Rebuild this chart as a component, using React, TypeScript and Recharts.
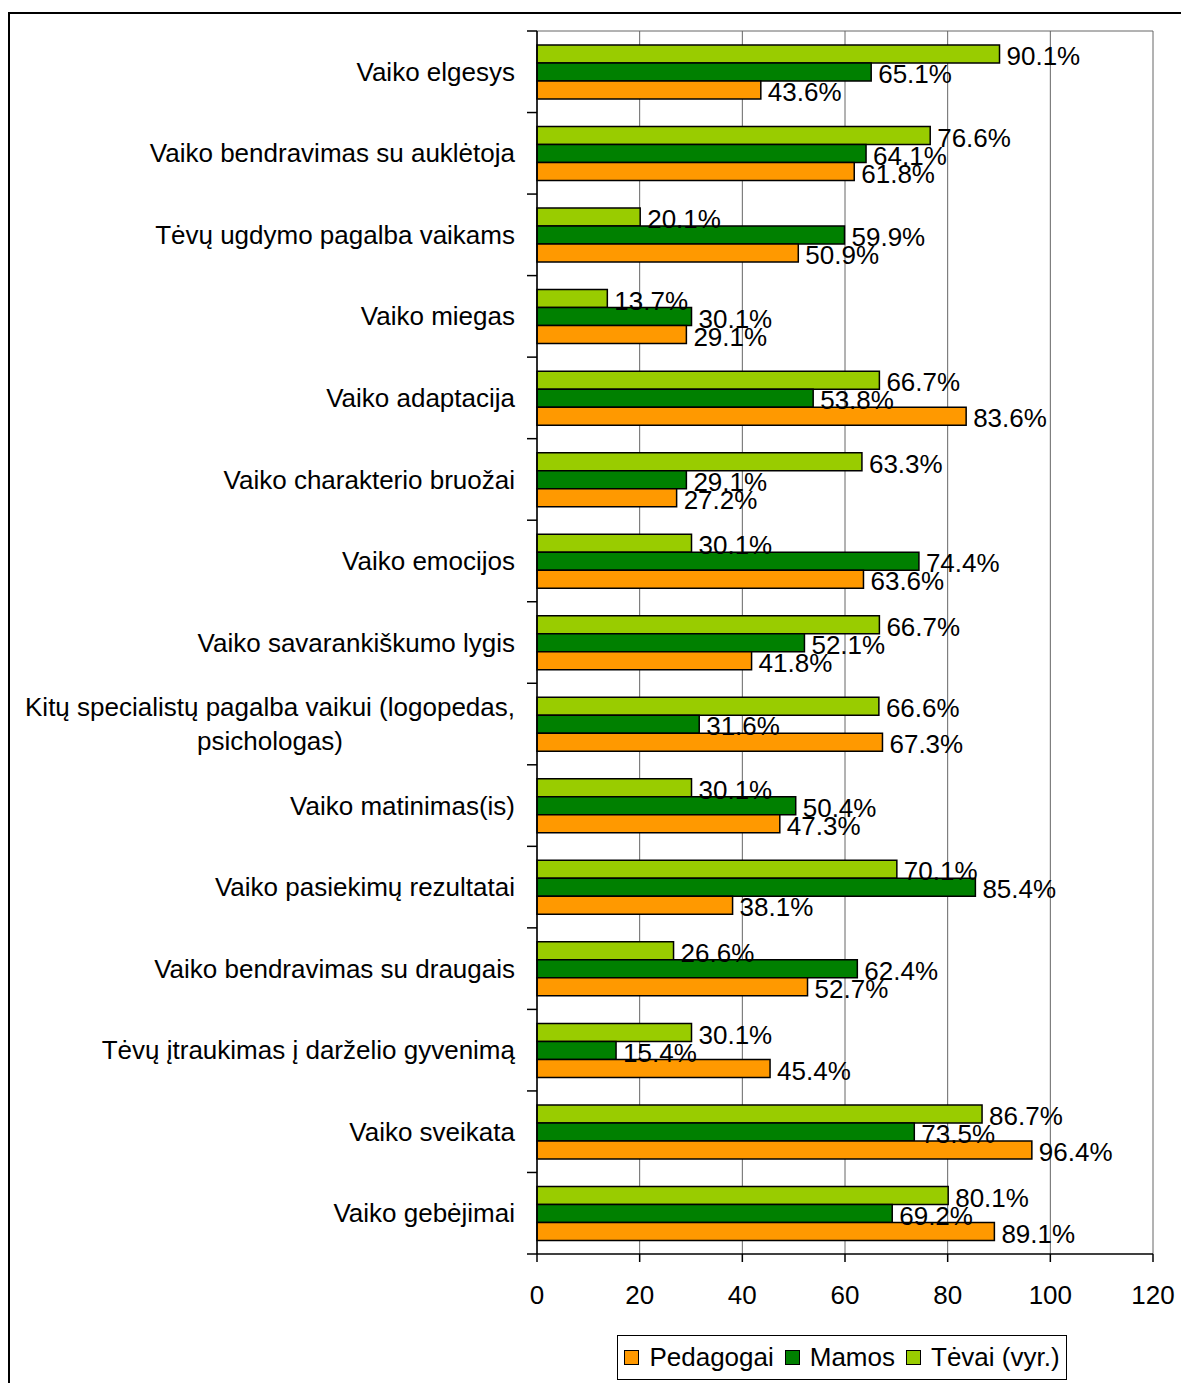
import { Bar, BarChart, CartesianGrid, LabelList, Legend, XAxis, YAxis } from "recharts";

const categories = [
  "Vaiko elgesys",
  "Vaiko bendravimas su auklėtoja",
  "Tėvų ugdymo pagalba vaikams",
  "Vaiko miegas",
  "Vaiko adaptacija",
  "Vaiko charakterio bruožai",
  "Vaiko emocijos",
  "Vaiko savarankiškumo lygis",
  "Kitų specialistų pagalba vaikui (logopedas, psichologas)",
  "Vaiko matinimas(is)",
  "Vaiko pasiekimų rezultatai",
  "Vaiko bendravimas su draugais",
  "Tėvų įtraukimas į darželio gyvenimą",
  "Vaiko sveikata",
  "Vaiko gebėjimai"
];

const tevai = [90.1, 76.6, 20.1, 13.7, 66.7, 63.3, 30.1, 66.7, 66.6, 30.1, 70.1, 26.6, 30.1, 86.7, 80.1];
const mamos = [65.1, 64.1, 59.9, 30.1, 53.8, 29.1, 74.4, 52.1, 31.6, 50.4, 85.4, 62.4, 15.4, 73.5, 69.2];
const pedagogai = [43.6, 61.8, 50.9, 29.1, 83.6, 27.2, 63.6, 41.8, 67.3, 47.3, 38.1, 52.7, 45.4, 96.4, 89.1];

const xTicks = [0, 20, 40, 60, 80, 100, 120];

const series = [
  { key: "tevai", name: "Tėvai (vyr.)", color: "#99CC00" },
  { key: "mamos", name: "Mamos", color: "#008000" },
  { key: "pedagogai", name: "Pedagogai", color: "#FF9900" }
];
const legendOrder = ["pedagogai", "mamos", "tevai"];

const data = categories.map((name, i) => ({
  name,
  tevai: tevai[i],
  mamos: mamos[i],
  pedagogai: pedagogai[i]
}));

const W = 1181;
const H = 1383;
const MARGIN = { top: 31, right: 28, bottom: 69, left: 0 };
const X_AXIS_H = 60;
const Y_AXIS_W = 537;
const PLOT_H = H - MARGIN.top - MARGIN.bottom - X_AXIS_H;
const BAND = PLOT_H / categories.length;
const FONT = "'Liberation Sans', Arial, sans-serif";
const FS = 26;

let ctx: CanvasRenderingContext2D | null = null;
function measure(s: string) {
  if (!ctx) ctx = document.createElement("canvas").getContext("2d");
  if (!ctx) return s.length * FS * 0.5;
  ctx.font = `${FS}px ${FONT}`;
  return ctx.measureText(s).width;
}

function wrapLabel(s: string, max: number) {
  const words = s.split(" ");
  const lines: string[] = [];
  let cur = "";
  for (const w of words) {
    const next = cur ? cur + " " + w : w;
    if (cur && measure(next) > max) {
      lines.push(cur);
      cur = w;
    } else {
      cur = next;
    }
  }
  if (cur) lines.push(cur);
  return lines;
}

function CategoryTick(props: any) {
  const { x, y, payload, index } = props;
  const axisX = x + 22;
  const lines = wrapLabel(String(payload.value), 505);
  const maxW = Math.max(...lines.map(measure));
  const lh = 34;
  const y0 = y - ((lines.length - 1) * lh) / 2;
  return (
    <g>
      <line x1={axisX - 10} x2={axisX} y1={y - BAND / 2} y2={y - BAND / 2} stroke="#000" strokeWidth={1.5} />
      {index === categories.length - 1 && (
        <line x1={axisX - 10} x2={axisX} y1={y + BAND / 2} y2={y + BAND / 2} stroke="#000" strokeWidth={1.5} />
      )}
      {lines.map((l, i) => (
        <text
          key={i}
          x={lines.length > 1 ? x - maxW / 2 : x}
          y={y0 + i * lh}
          dy="0.35em"
          textAnchor={lines.length > 1 ? "middle" : "end"}
          fontSize={FS}
          fontFamily={FONT}
          fill="#000"
        >
          {l}
        </text>
      ))}
    </g>
  );
}

function ValueLabel(props: any) {
  const { x, y, width, height, value } = props;
  return (
    <text
      x={x + width + 7}
      y={y + height / 2 + 2}
      dy="0.35em"
      fontSize={FS}
      fontFamily={FONT}
      fill="#000"
    >
      {Number(value).toFixed(1)}%
    </text>
  );
}

function LegendBox() {
  return (
    <div
      style={{
        boxSizing: "border-box",
        width: "100%",
        height: "100%",
        border: "1px solid #000",
        background: "#fff",
        display: "flex",
        alignItems: "center",
        justifyContent: "center",
        fontFamily: FONT,
        fontSize: FS,
        color: "#000"
      }}
    >
      {legendOrder.map((k, i) => {
        const s = series.find((e) => e.key === k)!;
        return (
          <span key={k} style={{ display: "flex", alignItems: "center", marginRight: i < legendOrder.length - 1 ? 11 : 0 }}>
            <span
              style={{
                display: "inline-block",
                boxSizing: "border-box",
                width: 15,
                height: 15,
                background: s.color,
                border: "1.5px solid #000",
                marginRight: 10
              }}
            />
            {s.name}
          </span>
        );
      })}
    </div>
  );
}

export default function App() {
  return (
    <div style={{ position: "absolute", left: 0, top: 0, width: W, height: H, overflow: "hidden", background: "#fff" }}>
      <style>{"body{overflow:hidden}"}</style>
      <div
        style={{
          position: "absolute",
          left: 8,
          top: 12,
          width: W - 8,
          height: H - 12,
          boxSizing: "border-box",
          borderLeft: "2.5px solid #000",
          borderTop: "2.5px solid #000"
        }}
      />
      <div style={{ position: "absolute", left: 0, top: 0 }}>
        <BarChart
          layout="vertical"
          width={W}
          height={H}
          data={data}
          margin={MARGIN}
          barGap={0}
          barCategoryGap={0}
        >
          <CartesianGrid
            stroke="#666"
            strokeWidth={1}
            horizontalCoordinatesGenerator={({ offset }: any) => [offset.top]}
          />
          <XAxis
            type="number"
            domain={[0, 120]}
            ticks={xTicks}
            interval={0}
            height={X_AXIS_H}
            tickSize={8}
            tickMargin={24}
            axisLine={{ stroke: "#000", strokeWidth: 1.5 }}
            tickLine={{ stroke: "#000", strokeWidth: 1.5 }}
            tick={{ fontSize: FS, fontFamily: FONT, fill: "#000" }}
          />
          <YAxis
            type="category"
            dataKey="name"
            width={Y_AXIS_W}
            interval={0}
            tickSize={10}
            tickMargin={12}
            tickLine={false}
            axisLine={{ stroke: "#000", strokeWidth: 1.5 }}
            tick={<CategoryTick />}
          />
          <Legend
            layout="horizontal"
            verticalAlign="middle"
            align="center"
            content={<LegendBox />}
            wrapperStyle={{ position: "absolute", left: 617, top: 1335, width: 450, height: 45 }}
          />
          {series.map((s) => (
            <Bar
              key={s.key}
              dataKey={s.key}
              name={s.name}
              fill={s.color}
              stroke="#000"
              strokeWidth={1.5}
              barSize={18}
              isAnimationActive={false}
            >
              <LabelList dataKey={s.key} content={<ValueLabel />} />
            </Bar>
          ))}
        </BarChart>
      </div>
    </div>
  );
}
